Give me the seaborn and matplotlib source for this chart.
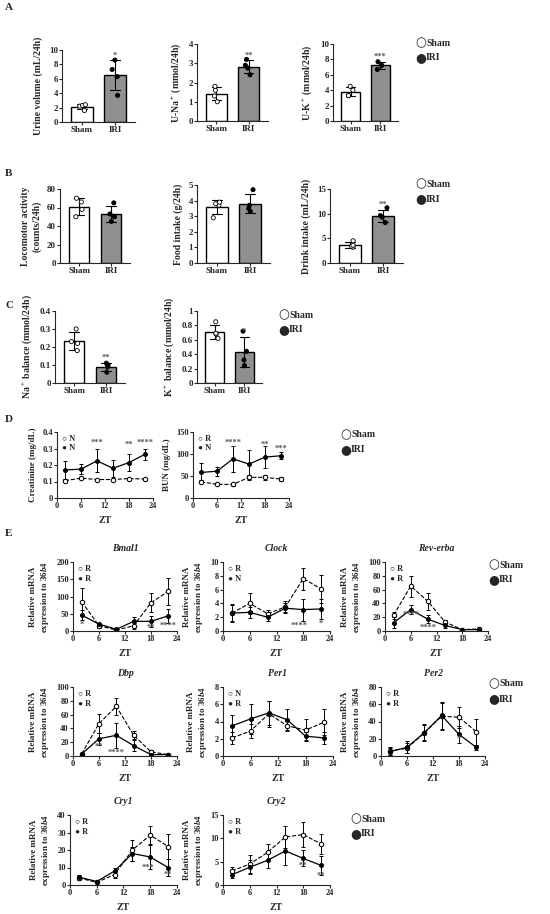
import numpy as np
import pandas as pd
import matplotlib
matplotlib.use("Agg")
import matplotlib.pyplot as plt
import seaborn as sns

sns.set_style("ticks")
plt.rcParams['font.family'] = ['Liberation Serif', 'DejaVu Serif']
plt.rcParams['font.weight'] = 'bold'
plt.rcParams['axes.labelweight'] = 'bold'
plt.rcParams['font.size'] = 6.5
plt.rcParams['axes.linewidth'] = 0.8
plt.rcParams['mathtext.fontset'] = 'custom'
plt.rcParams['mathtext.rm'] = 'Liberation Serif:bold'
plt.rcParams['mathtext.it'] = 'Liberation Serif:italic:bold'
plt.rcParams['mathtext.bf'] = 'Liberation Serif:bold'

groups = ["Sham", "IRI"]
# --- bar panel data (individual animals) ---
urine_sham = [1.6, 2.2, 2.3, 2.4]; urine_iri = [3.7, 6.3, 7.3, 8.6]
una_sham = [1.0, 1.3, 1.6, 1.8]; una_iri = [2.4, 2.75, 2.9, 3.2]
uk_sham = [3.3, 3.3, 4.0, 4.5]; uk_iri = [6.7, 7.2, 7.3, 7.7]
loco_sham = [50, 58, 66, 70]; loco_iri = [45, 50, 53, 65]
food_sham = [2.9, 3.7, 3.8, 3.9]; food_iri = [3.3, 3.5, 3.7, 4.7]
drink_sham = [3.2, 3.4, 3.6, 4.5]; drink_iri = [8.2, 9.3, 9.6, 11.2]
nabal_sham = [0.18, 0.22, 0.23, 0.30]; nabal_iri = [0.06, 0.09, 0.10, 0.11]
kbal_sham = [0.62, 0.68, 0.69, 0.85]; kbal_iri = [0.24, 0.32, 0.44, 0.72]

# --- time course data (mean, sd) ---
zt = [2, 6, 10, 14, 18, 22]
creat_sham = [0.105, 0.12, 0.112, 0.112, 0.118, 0.115]; creat_sham_sd = [0.01, 0.006, 0.006, 0.006, 0.005, 0.005]
creat_iri = [0.17, 0.175, 0.225, 0.18, 0.215, 0.265]; creat_iri_sd = [0.055, 0.03, 0.07, 0.05, 0.05, 0.035]
bun_sham = [37, 31, 31, 47, 47, 43]; bun_sham_sd = [3, 2, 4, 5, 5, 5]
bun_iri = [58, 61, 89, 77, 93, 96]; bun_iri_sd = [22, 10, 30, 33, 25, 8]
bmal_sham = [85, 15, 3, 15, 82, 115]; bmal_sham_sd = [40, 5, 2, 8, 28, 40]
bmal_iri = [46, 20, 5, 28, 28, 44]; bmal_iri_sd = [15, 4, 3, 12, 15, 20]
clock_sham = [2.6, 4.0, 2.5, 3.5, 7.6, 6.1]; clock_sham_sd = [1.3, 1.5, 0.5, 0.8, 1.6, 2.0]
clock_iri = [2.6, 2.7, 2.0, 3.3, 3.1, 3.2]; clock_iri_sd = [1.2, 0.8, 0.6, 0.7, 1.6, 1.4]
rev_sham = [23, 65, 43, 13, 2, 3]; rev_sham_sd = [5, 15, 12, 3, 1, 1]
rev_iri = [12, 31, 17, 8, 2, 2]; rev_iri_sd = [8, 7, 6, 4, 1, 1]
dbp_sham = [3, 47, 72, 30, 6, 2]; dbp_sham_sd = [1, 14, 12, 6, 2, 1]
dbp_iri = [3, 25, 30, 15, 2, 2]; dbp_iri_sd = [1, 9, 18, 8, 1, 1]
per1_sham = [2.1, 2.9, 4.9, 3.5, 3.0, 3.9]; per1_sham_sd = [0.7, 0.8, 1.5, 0.6, 1.3, 1.5]
per1_iri = [3.5, 4.3, 5.0, 4.2, 2.3, 2.1]; per1_iri_sd = [1.2, 1.7, 1.4, 1.2, 0.5, 0.7]
per2_sham = [6, 9, 27, 46, 45, 28]; per2_sham_sd = [5, 6, 9, 16, 12, 15]
per2_iri = [5, 10, 27, 47, 25, 10]; per2_iri_sd = [4, 7, 10, 16, 10, 3]
cry1_sham = [4, 1.5, 6, 20, 28.5, 22]; cry1_sham_sd = [1, 0.5, 2, 6, 5, 7]
cry1_iri = [4.5, 2, 8, 18, 16, 10]; cry1_iri_sd = [1, 0.5, 2, 4, 7, 5]
cry2_sham = [3, 4.5, 7, 10.3, 10.8, 8.8]; cry2_sham_sd = [0.8, 2, 1.7, 2.4, 2.7, 2.2]
cry2_iri = [2.2, 3.8, 5.3, 7.3, 5.7, 4.2]; cry2_iri_sd = [0.8, 1.5, 1.7, 3, 1.7, 2]

W, H = 550, 914
fig = plt.figure(figsize=(W / 100, H / 100), dpi=100)

def ax_px(x0, y0, x1, y1):
    return fig.add_axes([x0 / W, 1 - y1 / H, (x1 - x0) / W, (y1 - y0) / H])

def ftext(x, y, s, **kw):
    fig.text(x / W, 1 - y / H, s, **kw)

def legend(x, y):
    ftext(x, y, "\u25CB", fontsize=9, va='center', family=['DejaVu Sans'])
    ftext(x + 11, y, "Sham", fontsize=7, va='center', weight='bold')
    ftext(x, y + 15, "\u25CF", fontsize=9, va='center', family=['DejaVu Sans'])
    ftext(x + 11, y + 15, "IRI", fontsize=7, va='center', weight='bold')

def bar(rect, sham, iri, ylabel, ymax, ystep, star, fmt=None):
    ax = ax_px(*rect)
    df = pd.DataFrame({"g": ["Sham"] * len(sham) + ["IRI"] * len(iri), "v": sham + iri})
    sns.barplot(data=df, x="g", y="v", order=groups, hue="g", palette={"Sham": "white", "IRI": "#909090"},
                edgecolor="black", linewidth=1, errorbar="sd", capsize=0.3, err_kws={"linewidth": 0.8, "color": "black"},
                width=0.65, ax=ax, legend=False)
    sns.stripplot(data=df, x="g", y="v", order=groups, hue="g", palette={"Sham": "white", "IRI": "black"},
                  edgecolor="black", linewidth=0.6, size=3, jitter=0.12, ax=ax, legend=False)
    ax.set_ylim(0, ymax)
    ticks = np.arange(0, ymax + 1e-9, ystep)
    ax.set_yticks(ticks)
    if fmt:
        ax.set_yticklabels([fmt(t) for t in ticks])
    ax.set_xlim(-0.6, 1.6)
    ax.set_xlabel("")
    ax.set_ylabel(ylabel, fontsize=7)
    ax.tick_params(labelsize=6.5, length=2, width=0.8, pad=1)
    sns.despine(ax=ax)
    m = np.mean(iri) + np.std(iri, ddof=1)
    ax.text(1, m + ymax * 0.04, star, ha='center', fontsize=6, color='#555555')
    return ax

for lab, y in [("A", 8), ("B", 173), ("C", 305), ("D", 420), ("E", 533)]:
    ftext(5, y, lab, fontsize=8, weight='bold', va='center')

bar((62, 50, 135, 122), urine_sham, urine_iri, "Urine volume (mL/24h)", 10, 2, "*")
bar((197, 44, 268, 121), una_sham, una_iri, "U-Na$^+$ (mmol/24h)", 4, 1, "**")
bar((333, 44, 398, 121), uk_sham, uk_iri, "U-K$^+$ (mmol/24h)", 10, 2, "***")
legend(415, 43)
bar((60, 189, 130, 263), loco_sham, loco_iri, "Locomotor activity\n(counts/24h)", 80, 20, "")
bar((197, 185, 270, 263), food_sham, food_iri, "Food intake (g/24h)", 5, 1, "")
bar((330, 189, 403, 263), drink_sham, drink_iri, "Drink intake (mL/24h)", 15, 5, "**")
legend(415, 184)
bar((55, 311, 125, 383), nabal_sham, nabal_iri, "Na$^+$ balance (mmol/24h)", 0.4, 0.1, "**", fmt=lambda t: "0" if t == 0 else f"{t:.1f}")
bar((197, 311, 262, 383), kbal_sham, kbal_iri, "K$^+$ balance (mmol/24h)", 1, 0.2, "*", fmt=lambda t: "0" if t == 0 else ("1" if abs(t - 1) < 1e-9 else f"{t:.1f}"))
legend(278, 315)

def line(rect, sham, ssd, iri, isd, ylabel, ymax, ystep, codes, stars, title=None, fmt=None):
    ax = ax_px(*rect)
    df = pd.DataFrame({"ZT": zt * 2, "v": sham + iri, "g": ["Sham"] * 6 + ["IRI"] * 6})
    ax.errorbar(zt, sham, yerr=ssd, fmt='none', ecolor='black', elinewidth=0.7, capsize=1.5, capthick=0.7)
    ax.errorbar(zt, iri, yerr=isd, fmt='none', ecolor='black', elinewidth=0.7, capsize=1.5, capthick=0.7)
    sns.lineplot(data=df[df.g == "Sham"], x="ZT", y="v", color='black', linestyle='--', linewidth=0.8,
                 marker='o', markersize=3.2, markerfacecolor='white', markeredgecolor='black', ax=ax)
    sns.lineplot(data=df[df.g == "IRI"], x="ZT", y="v", color='black', linewidth=0.9,
                 marker='o', markersize=2.8, markerfacecolor='black', markeredgecolor='black', ax=ax)
    ax.set_xlim(0, 24); ax.set_xticks([0, 6, 12, 18, 24])
    ax.set_ylim(0, ymax)
    ticks = np.arange(0, ymax + 1e-9, ystep)
    ax.set_yticks(ticks)
    if fmt:
        ax.set_yticklabels([fmt(t) for t in ticks])
    ax.set_xlabel("ZT", fontsize=7)
    ax.set_ylabel(ylabel, fontsize=6.5)
    ax.tick_params(labelsize=6, length=2, width=0.8, pad=1)
    sns.despine(ax=ax)
    ax.text(1.2, ymax * 0.9, "\u25CB " + codes[0], fontsize=6, va='center')
    ax.text(1.2, ymax * 0.76, "\u25CF " + codes[1], fontsize=6, va='center')
    for x, yf, s in stars:
        ax.text(x, ymax * yf, s, ha='center', fontsize=6, color='#555555')
    if title:
        ax.set_title(title, fontsize=7, style='italic', weight='bold', pad=8)
    return ax

rel = "Relative mRNA\nexpression to $\\mathit{36b4}$"
line((57, 432, 153, 498), creat_sham, creat_sham_sd, creat_iri, creat_iri_sd, "Creatinine (mg/dL)", 0.4, 0.1,
     ("N", "N"), [(10, 0.8, "***"), (18, 0.78, "**"), (22, 0.8, "****")], fmt=lambda t: "0" if t == 0 else f"{t:.1f}")
line((193, 432, 289, 498), bun_sham, bun_sham_sd, bun_iri, bun_iri_sd, "BUN (mg/dL)", 150, 50,
     ("R", "N"), [(10, 0.8, "****"), (18, 0.78, "**"), (22, 0.72, "***")])
legend(340, 435)

line((73, 562, 177, 631), bmal_sham, bmal_sham_sd, bmal_iri, bmal_iri_sd, rel, 200, 50,
     ("R", "R"), [(2, 0.06, "*"), (18, 0.02, "**"), (22, 0.04, "****")], title="Bmal1")
line((223, 562, 330, 631), clock_sham, clock_sham_sd, clock_iri, clock_iri_sd, rel, 10, 2,
     ("R", "N"), [(17, 0.04, "****"), (22, 0.08, "*")], title="Clock")
line((385, 562, 488, 631), rev_sham, rev_sham_sd, rev_iri, rev_iri_sd, rel, 100, 20,
     ("R", "R"), [(6, 0.2, "****"), (10, 0.02, "****")], title="Rev-erba")
legend(488, 565)

line((73, 687, 177, 756), dbp_sham, dbp_sham_sd, dbp_iri, dbp_iri_sd, rel, 100, 20,
     ("R", "R"), [(6, 0.1, "**"), (10, 0.02, "****")], title="Dbp")
line((223, 687, 333, 756), per1_sham, per1_sham_sd, per1_iri, per1_iri_sd, rel, 8, 2,
     ("N", "R"), [], title="Per1")
line((381, 687, 485, 756), per2_sham, per2_sham_sd, per2_iri, per2_iri_sd, rel, 80, 20,
     ("R", "R"), [(18, 0.22, "*")], title="Per2")
legend(488, 684)

line((70, 815, 177, 885), cry1_sham, cry1_sham_sd, cry1_iri, cry1_iri_sd, rel, 40, 10,
     ("R", "R"), [(17.5, 0.22, "***"), (22, 0.12, "**")], title="Cry1")
line((223, 815, 330, 885), cry2_sham, cry2_sham_sd, cry2_iri, cry2_iri_sd, rel, 15, 5,
     ("R", "R"), [(18, 0.25, "**"), (22, 0.1, "**")], title="Cry2")
legend(350, 819)

fig.savefig("out.png", dpi=100)
